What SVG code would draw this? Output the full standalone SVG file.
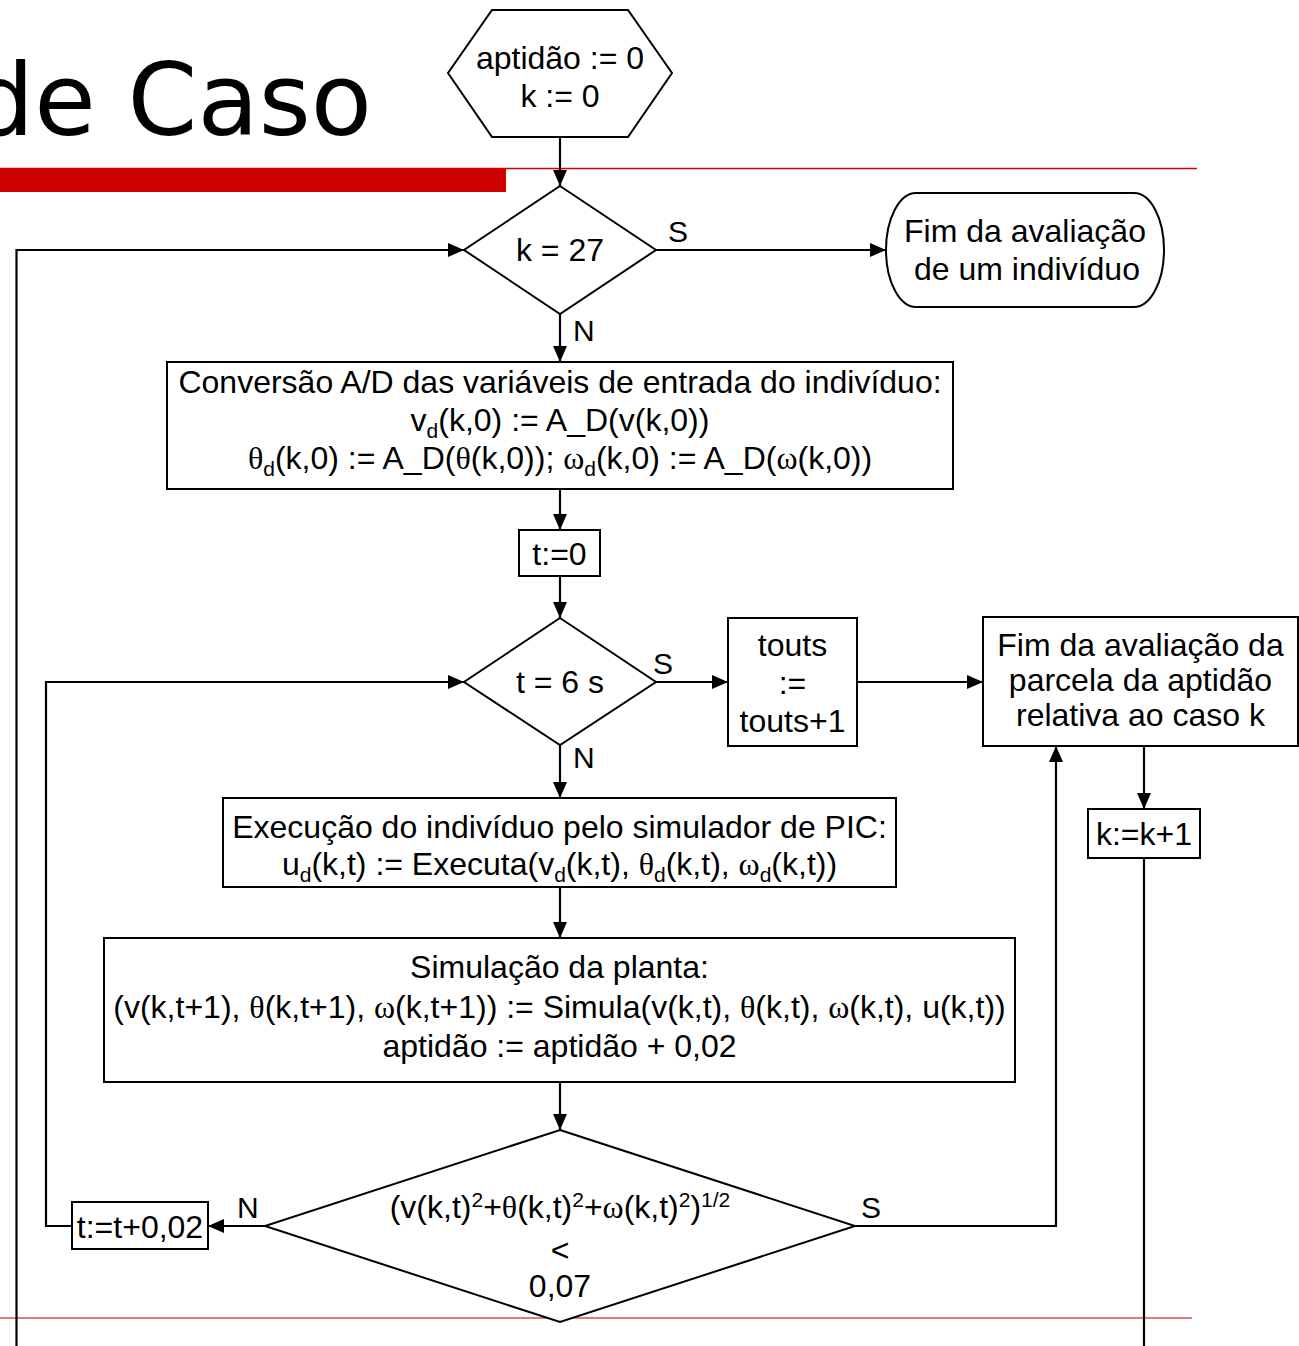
<svg xmlns="http://www.w3.org/2000/svg" width="1299" height="1346" viewBox="0 0 1299 1346">
  <style>
    .box { fill: #ffffff; stroke: #000000; stroke-width: 2; }
    .ln { fill: none; stroke: #000000; stroke-width: 2.2; }
    .t { font-family: "Liberation Sans", Arial, sans-serif; font-size: 32px; fill: #000000; text-anchor: middle; }
    .lbl { font-family: "Liberation Sans", Arial, sans-serif; font-size: 30px; fill: #000000; }
    .g { font-family: "Liberation Serif", "Times New Roman", serif; }
    .title { font-family: "DejaVu Sans", Verdana, sans-serif; font-size: 100px; fill: #000000; text-anchor: end; }
  </style>
  <defs>
    <marker id="arrow" markerUnits="userSpaceOnUse" markerWidth="16" markerHeight="14" refX="16" refY="7" orient="auto">
      <path d="M0,0 L16,7 L0,14 z" fill="#000000"/>
    </marker>
  </defs>

  <!-- slide header and footer decoration -->
  <g id="slide-decor">
    <text class="title" x="372" y="135">de Caso</text>
    <rect x="0" y="168" width="506" height="24" fill="#cc0000"/>
    <line x1="0" y1="168.5" x2="1197" y2="168.5" stroke="#cc0000" stroke-width="1.5"/>
    <line x1="0" y1="1318" x2="1192" y2="1318" stroke="#e07b7b" stroke-width="2"/>
  </g>

  <!-- connectors -->
  <g id="connectors" class="ln">
    <line x1="560" y1="137" x2="560" y2="186" marker-end="url(#arrow)"/>
    <line x1="655" y1="250" x2="886" y2="250" marker-end="url(#arrow)"/>
    <line x1="560" y1="314" x2="560" y2="362" marker-end="url(#arrow)"/>
    <line x1="560" y1="489" x2="560" y2="530" marker-end="url(#arrow)"/>
    <line x1="560" y1="576" x2="560" y2="618" marker-end="url(#arrow)"/>
    <line x1="656" y1="682" x2="728" y2="682" marker-end="url(#arrow)"/>
    <line x1="857" y1="682" x2="983" y2="682" marker-end="url(#arrow)"/>
    <line x1="1144" y1="746" x2="1144" y2="809" marker-end="url(#arrow)"/>
    <line x1="1144" y1="858" x2="1144" y2="1346"/>
    <line x1="560" y1="745" x2="560" y2="798" marker-end="url(#arrow)"/>
    <line x1="560" y1="887" x2="560" y2="938" marker-end="url(#arrow)"/>
    <line x1="560" y1="1082" x2="560" y2="1130" marker-end="url(#arrow)"/>
    <line x1="265" y1="1226" x2="208" y2="1226" marker-end="url(#arrow)"/>
    <polyline points="72,1226 46,1226 46,682 464,682" marker-end="url(#arrow)"/>
    <polyline points="855,1226 1056,1226 1056,746" marker-end="url(#arrow)"/>
    <polyline points="16.5,1346 16.5,250 464,250" marker-end="url(#arrow)"/>
  </g>

  <!-- branch labels -->
  <g id="branch-labels" class="lbl">
    <text x="668" y="242">S</text>
    <text x="573" y="341">N</text>
    <text x="653" y="674">S</text>
    <text x="573" y="768">N</text>
    <text x="237" y="1218">N</text>
    <text x="861" y="1218">S</text>
  </g>

  <g id="init">
    <polygon class="box" points="492,10 628,10 672,73 628,137 492,137 448,73"/>
    <text class="t" x="560" y="69">aptidão := 0</text>
    <text class="t" x="560" y="107">k := 0</text>
  </g>

  <g id="test-k">
    <polygon class="box" points="560,186 656,250 560,314 464,250"/>
    <text class="t" x="560" y="261">k = 27</text>
  </g>

  <g id="end-individual">
    <rect class="box" x="886" y="193" width="278" height="114" rx="30" ry="57"/>
    <text class="t" x="1025" y="242" font-size="31">Fim da avaliação</text>
    <text class="t" x="1027" y="280" font-size="31">de um indivíduo</text>
  </g>

  <g id="ad-conversion">
    <rect class="box" x="167" y="362" width="786" height="127"/>
    <text class="t" x="560" y="393">Conversão A/D das variáveis de entrada do indivíduo:</text>
    <text class="t" x="560" y="431">v<tspan font-size="21" dy="7">d</tspan><tspan dy="-7">(k,0) := A_D(v(k,0))</tspan></text>
    <text class="t" x="560" y="469"><tspan class="g">θ</tspan><tspan font-size="21" dy="7">d</tspan><tspan dy="-7">(k,0) := A_D(</tspan><tspan class="g">θ</tspan>(k,0)); <tspan class="g">ω</tspan><tspan font-size="21" dy="7">d</tspan><tspan dy="-7">(k,0) := A_D(</tspan><tspan class="g">ω</tspan>(k,0))</text>
  </g>

  <g id="t-init">
    <rect class="box" x="519" y="530" width="81" height="46"/>
    <text class="t" x="559.5" y="565">t:=0</text>
  </g>

  <g id="test-t">
    <polygon class="box" points="560,618 656,682 560,745 464,682"/>
    <text class="t" x="560" y="693">t = 6 s</text>
  </g>

  <g id="touts">
    <rect class="box" x="728" y="618" width="129" height="128"/>
    <text class="t" x="792.5" y="656">touts</text>
    <text class="t" x="792.5" y="694">:=</text>
    <text class="t" x="792.5" y="732">touts+1</text>
  </g>

  <g id="end-case">
    <rect class="box" x="983" y="617" width="315" height="129"/>
    <text class="t" x="1140.5" y="656">Fim da avaliação da</text>
    <text class="t" x="1140.5" y="691">parcela da aptidão</text>
    <text class="t" x="1140.5" y="726">relativa ao caso k</text>
  </g>

  <g id="k-inc">
    <rect class="box" x="1088" y="809" width="112" height="49"/>
    <text class="t" x="1144" y="845">k:=k+1</text>
  </g>

  <g id="execution">
    <rect class="box" x="223" y="798" width="673" height="89"/>
    <text class="t" x="559.5" y="838">Execução do indivíduo pelo simulador de PIC:</text>
    <text class="t" x="559.5" y="875">u<tspan font-size="21" dy="7">d</tspan><tspan dy="-7">(k,t) := Executa(v</tspan><tspan font-size="21" dy="7">d</tspan><tspan dy="-7">(k,t), </tspan><tspan class="g">θ</tspan><tspan font-size="21" dy="7">d</tspan><tspan dy="-7">(k,t), </tspan><tspan class="g">ω</tspan><tspan font-size="21" dy="7">d</tspan><tspan dy="-7">(k,t))</tspan></text>
  </g>

  <g id="plant-simulation">
    <rect class="box" x="104" y="938" width="911" height="144"/>
    <text class="t" x="559.5" y="978">Simulação da planta:</text>
    <text class="t" x="559.5" y="1018">(v(k,t+1), <tspan class="g">θ</tspan>(k,t+1), <tspan class="g">ω</tspan>(k,t+1)) := Simula(v(k,t), <tspan class="g">θ</tspan>(k,t), <tspan class="g">ω</tspan>(k,t), u(k,t))</text>
    <text class="t" x="559.5" y="1057">aptidão := aptidão + 0,02</text>
  </g>

  <g id="test-error">
    <polygon class="box" points="560,1130 855,1226 560,1322 265,1226"/>
    <text class="t" x="560" y="1218">(v(k,t)<tspan font-size="21" dy="-11">2</tspan><tspan dy="11">+</tspan><tspan class="g">θ</tspan>(k,t)<tspan font-size="21" dy="-11">2</tspan><tspan dy="11">+</tspan><tspan class="g">ω</tspan>(k,t)<tspan font-size="21" dy="-11">2</tspan><tspan dy="11">)</tspan><tspan font-size="21" dy="-11">1/2</tspan></text>
    <text class="t" x="560" y="1261">&lt;</text>
    <text class="t" x="560" y="1297">0,07</text>
  </g>

  <g id="t-inc">
    <rect class="box" x="72" y="1202" width="136" height="47"/>
    <text class="t" x="140" y="1238">t:=t+0,02</text>
  </g>
</svg>
